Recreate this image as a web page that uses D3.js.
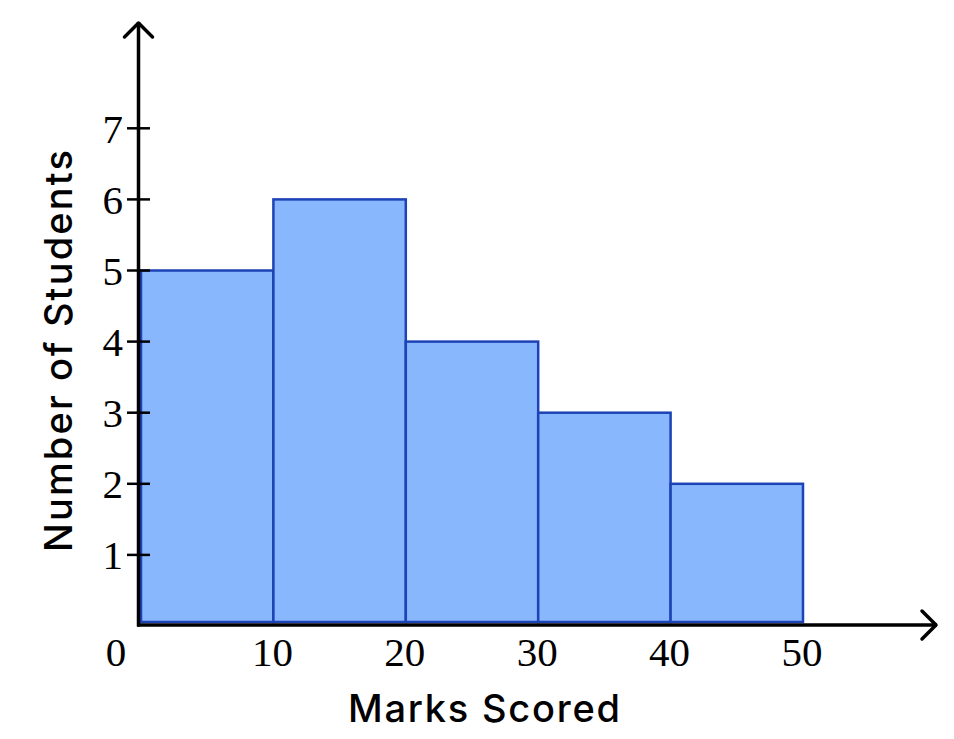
<!DOCTYPE html>
<html>
<head>
<meta charset="utf-8">
<script src="https://cdn.jsdelivr.net/npm/d3@7"></script>
<style>
  body { margin: 0; background: #fff; }
  svg { display: block; }
</style>
</head>
<body>
<svg id="chart"></svg>
<script>
// histogram data
let binStarts = [0, 10, 20, 30, 40]
let binWidth = 10
let counts = [5, 6, 4, 3, 2]
let xTicks = [0, 10, 20, 30, 40, 50]
let yTicks = [1, 2, 3, 4, 5, 6, 7]

let width = 954
let height = 739

let svg = d3.select("#chart")
    .attr("width", width)
    .attr("height", height)

let x = d3.scaleLinear().domain([0, 50]).range([140, 802])
let y = d3.scaleLinear().domain([0, 7]).range([626, 128.3])

let axisX = 138.5
let axisY = 625

// bars
svg.append("g")
    .selectAll("rect")
    .data(counts)
    .enter()
    .append("rect")
    .attr("x", (d, i) => x(binStarts[i]) + 1)
    .attr("y", d => y(d))
    .attr("width", (d, i) => x(binStarts[i] + binWidth) - x(binStarts[i]))
    .attr("height", d => y(0) - y(d) - 4)
    .attr("fill", "#88b7fd")
    .attr("stroke", "#1d43b6")
    .attr("stroke-width", 2.5)

// y ticks
svg.append("g")
    .selectAll("line")
    .data(yTicks)
    .enter()
    .append("line")
    .attr("x1", 127)
    .attr("x2", 150)
    .attr("y1", d => y(d))
    .attr("y2", d => y(d))
    .attr("stroke", "#000")
    .attr("stroke-width", 2.5)

svg.append("g")
    .selectAll("text")
    .data(yTicks)
    .enter()
    .append("text")
    .attr("x", 123)
    .attr("y", d => y(d))
    .attr("dy", "0.35em")
    .attr("text-anchor", "end")
    .style("font-family", "'Liberation Serif', serif")
    .style("font-size", "41px")
    .text(d => d)

// x tick labels
svg.append("g")
    .selectAll("text")
    .data(xTicks)
    .enter()
    .append("text")
    .attr("x", d => d == 0 ? 116 : x(d))
    .attr("y", 666)
    .attr("text-anchor", "middle")
    .style("font-family", "'Liberation Serif', serif")
    .style("font-size", "41px")
    .text(d => d)

// axes with arrows
svg.append("line")
    .attr("x1", axisX).attr("x2", axisX)
    .attr("y1", axisY + 1.5).attr("y2", 22)
    .attr("stroke", "#000").attr("stroke-width", 3.5)

svg.append("line")
    .attr("x1", axisX - 1.5).attr("x2", 937)
    .attr("y1", axisY).attr("y2", axisY)
    .attr("stroke", "#000").attr("stroke-width", 3.5)

svg.append("path")
    .attr("d", `M${axisX - 14},${37} L${axisX},${23} L${axisX + 14},${37}`)
    .attr("fill", "none").attr("stroke", "#000").attr("stroke-width", 3.5)
    .attr("stroke-linecap", "round").attr("stroke-linejoin", "round")

svg.append("path")
    .attr("d", `M${922},${axisY - 14} L${936},${axisY} L${922},${axisY + 14}`)
    .attr("fill", "none").attr("stroke", "#000").attr("stroke-width", 3.5)
    .attr("stroke-linecap", "round").attr("stroke-linejoin", "round")

// axis titles
svg.append("text")
    .attr("x", 484)
    .attr("y", 722)
    .attr("text-anchor", "middle")
    .attr("textLength", 272)
    .attr("lengthAdjust", "spacing")
    .style("font-family", "Inter, sans-serif")
    .style("font-size", "38px")
    .style("font-weight", 500)
    .text("Marks Scored")

svg.append("text")
    .attr("transform", "translate(72,351) rotate(-90)")
    .attr("text-anchor", "middle")
    .attr("textLength", 402)
    .attr("lengthAdjust", "spacing")
    .style("font-family", "Inter, sans-serif")
    .style("font-size", "38px")
    .style("font-weight", 500)
    .text("Number of Students")
</script>
</body>
</html>
